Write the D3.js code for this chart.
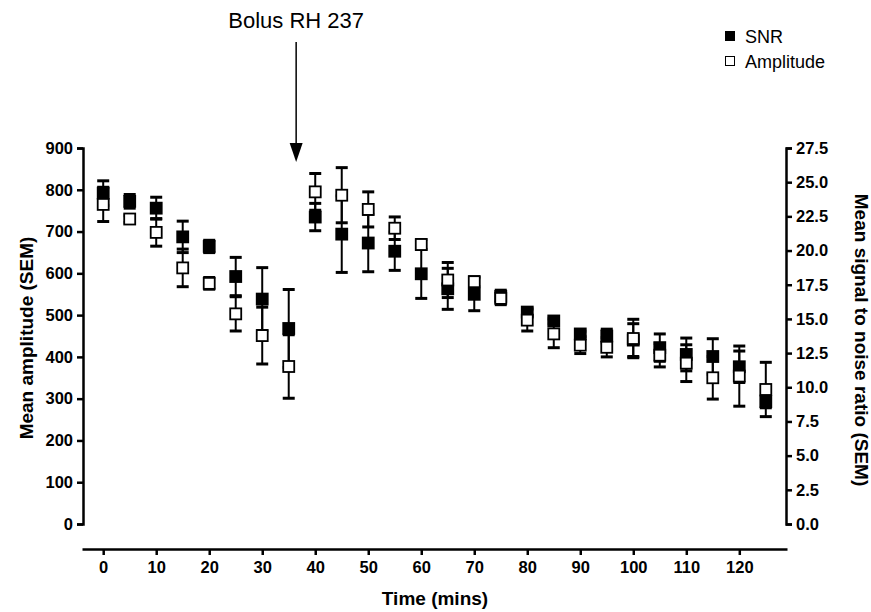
<!DOCTYPE html>
<html>
<head>
<meta charset="utf-8">
<script src="https://cdn.jsdelivr.net/npm/d3@7"></script>
<style>
  body { margin: 0; background: #fff; }
  svg { display: block; font-family: Arial, "Liberation Sans", sans-serif; }
</style>
</head>
<body>
<svg id="chart" width="871" height="612"></svg>
<script>
// time points (mins)
const times = [0, 5, 10, 15, 20, 25, 30, 35, 40, 45, 50, 55, 60, 65, 70, 75, 80, 85, 90, 95, 100, 105, 110, 115, 120, 125]

// amplitude, left axis
const ampMean = [765, 730, 698, 613, 576, 503, 451, 377, 795, 787, 753, 708, 669, 584, 580, 540, 488, 455, 428, 423, 444, 404, 385, 350, 354, 322]
const ampSem = [41, 8, 33, 45, 14, 41, 68, 76, 44, 66, 42, 27, 12, 42, 12, 15, 26, 33, 20, 23, 46, 28, 44, 51, 72, 65]

// signal to noise ratio, right axis
const snrMean = [24.2, 23.6, 23.1, 21.0, 20.3, 18.1, 16.45, 14.3, 22.45, 21.2, 20.55, 19.95, 18.3, 17.2, 16.8, 16.65, 15.5, 14.85, 13.9, 13.75, 13.45, 12.9, 12.4, 12.25, 11.5, 8.95]
const snrSem = [0.9, 0.5, 0.8, 1.15, 0.45, 1.4, 2.3, 2.85, 1.0, 2.8, 2.1, 1.4, 1.8, 1.5, 1.2, 0.45, 0.25, 0.2, 0.2, 0.5, 1.2, 1.0, 1.2, 1.3, 1.15, 0.45]

const xTicks = [0, 10, 20, 30, 40, 50, 60, 70, 80, 90, 100, 110, 120]
const ampTicks = [0, 100, 200, 300, 400, 500, 600, 700, 800, 900]
const snrTicks = [0, 2.5, 5, 7.5, 10, 12.5, 15, 17.5, 20, 22.5, 25, 27.5]
const bolusTime = 36.4

const svg = d3.select("#chart")

const x = d3.scaleLinear().domain([-4, 129]).range([82, 787])
const yL = d3.scaleLinear().domain([0, 900]).range([524, 148])
const yR = d3.scaleLinear().domain([0, 27.5]).range([524, 148])

function styleAxis(g, size) {
  g.select(".domain").attr("stroke", "#000").attr("stroke-width", 2.5)
  g.selectAll(".tick line").attr("stroke", "#000").attr("stroke-width", 2.5)
  g.selectAll(".tick text")
    .attr("fill", "#000")
    .attr("font-size", size)
    .attr("font-weight", "bold")
    .attr("font-family", 'Arial, "Liberation Sans", sans-serif')
}

const gL = svg.append("g").attr("transform", "translate(83,0)")
  .call(d3.axisLeft(yL).tickValues(ampTicks).tickSize(6).tickSizeOuter(6).tickPadding(4))
styleAxis(gL, 16.5)

const gR = svg.append("g").attr("transform", "translate(786,0)")
  .call(d3.axisRight(yR).tickValues(snrTicks).tickSize(6).tickSizeOuter(6).tickPadding(4).tickFormat(d3.format(".1f")))
styleAxis(gR, 16.5)

const gX = svg.append("g").attr("transform", "translate(0,549)")
  .call(d3.axisBottom(x).tickValues(xTicks).tickSize(6).tickSizeOuter(0).tickPadding(6))
styleAxis(gX, 16.5)

// axis titles
svg.append("text")
  .attr("transform", "translate(33,338) rotate(-90)")
  .attr("text-anchor", "middle")
  .attr("font-size", 19).attr("font-weight", "bold")
  .text("Mean amplitude (SEM)")

svg.append("text")
  .attr("transform", "translate(855,340) rotate(90)")
  .attr("text-anchor", "middle")
  .attr("font-size", 19).attr("font-weight", "bold")
  .text("Mean signal to noise ratio (SEM)")

svg.append("text")
  .attr("x", 435).attr("y", 605)
  .attr("text-anchor", "middle")
  .attr("font-size", 19).attr("font-weight", "bold")
  .text("Time (mins)")

// bolus annotation
const bx = x(bolusTime)
svg.append("text")
  .attr("x", bx).attr("y", 28)
  .attr("text-anchor", "middle")
  .attr("font-size", 22)
  .text("Bolus RH 237")
svg.append("line")
  .attr("x1", bx).attr("x2", bx).attr("y1", 42).attr("y2", 146)
  .attr("stroke", "#000").attr("stroke-width", 1.5)
svg.append("path")
  .attr("d", `M${bx - 6.5},143 L${bx + 6.5},143 L${bx},162 Z`)
  .attr("fill", "#000")

// error bars + markers
const capW = 12
const box = 11

function drawSeries(means, sems, scale, filled) {
  const data = times.map((t, i) => ({t, m: means[i], e: sems[i]}))
  const g = svg.append("g")
  const eb = g.selectAll("g.eb").data(data).join("g").attr("class", "eb")
  eb.append("line")
    .attr("x1", (d) => x(d.t)).attr("x2", (d) => x(d.t))
    .attr("y1", (d) => scale(d.m + d.e)).attr("y2", (d) => scale(d.m - d.e))
    .attr("stroke", "#000").attr("stroke-width", 2)
  eb.append("line")
    .attr("x1", (d) => x(d.t) - capW / 2).attr("x2", (d) => x(d.t) + capW / 2)
    .attr("y1", (d) => scale(d.m + d.e)).attr("y2", (d) => scale(d.m + d.e))
    .attr("stroke", "#000").attr("stroke-width", 3)
  eb.append("line")
    .attr("x1", (d) => x(d.t) - capW / 2).attr("x2", (d) => x(d.t) + capW / 2)
    .attr("y1", (d) => scale(d.m - d.e)).attr("y2", (d) => scale(d.m - d.e))
    .attr("stroke", "#000").attr("stroke-width", 3)
  g.selectAll("rect").data(data).join("rect")
    .attr("x", (d) => x(d.t) - box / 2)
    .attr("y", (d) => scale(d.m) - box / 2)
    .attr("width", box).attr("height", box)
    .attr("fill", filled ? "#000" : "#fff")
    .attr("stroke", "#000").attr("stroke-width", 1.8)
}

drawSeries(snrMean, snrSem, yR, true)
drawSeries(ampMean, ampSem, yL, false)

// legend
const legend = [
  {label: "SNR", filled: true},
  {label: "Amplitude", filled: false},
]
const lg = svg.append("g").attr("transform", "translate(730,36)")
lg.selectAll("rect").data(legend).join("rect")
  .attr("x", -4.5).attr("y", (d, i) => i * 25 - 4.5)
  .attr("width", 9).attr("height", 9)
  .attr("fill", (d) => d.filled ? "#000" : "#fff")
  .attr("stroke", "#000").attr("stroke-width", 1)
lg.selectAll("text").data(legend).join("text")
  .attr("x", 15).attr("y", (d, i) => i * 25 + 6.5)
  .attr("font-size", 18)
  .text((d) => d.label)
</script>
</body>
</html>
